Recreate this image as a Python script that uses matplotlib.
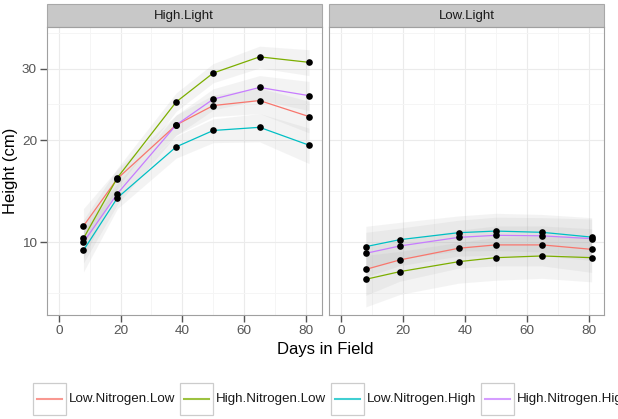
import matplotlib
matplotlib.use('Agg')
import matplotlib.pyplot as plt
from matplotlib.patches import Rectangle
from matplotlib.lines import Line2D
import numpy as np

plt.rcParams['font.family'] = ['Liberation Sans', 'DejaVu Sans']

# data
days = [8, 19, 38, 50, 65, 81]
treatments = ['Low.Nitrogen.Low', 'High.Nitrogen.Low', 'Low.Nitrogen.High', 'High.Nitrogen.High']
colors = ['#F8766D', '#7CAE00', '#00BFC4', '#C77CFF']
panels = ['High.Light', 'Low.Light']

# High.Light panel
hl_ln_low = [11.3, 15.7, 21.9, 24.5, 25.2, 23.0]
hl_hn_low = [10.3, 15.8, 25.0, 29.3, 31.9, 31.0]
hl_ln_high = [9.4, 13.8, 19.2, 21.2, 21.6, 19.4]
hl_hn_high = [10.0, 14.2, 21.9, 25.4, 27.1, 25.9]
hl_band = [1.5, 1.0, 1.3, 1.5, 1.8, 2.1]

# Low.Light panel
ll_ln_low = [8.07, 8.71, 9.55, 9.80, 9.80, 9.47]
ll_hn_low = [7.43, 7.92, 8.59, 8.87, 8.99, 8.87]
ll_ln_high = [9.67, 10.2, 10.75, 10.88, 10.78, 10.4]
ll_hn_high = [9.18, 9.72, 10.38, 10.54, 10.5, 10.28]
ll_band = [1.6, 1.4, 1.4, 1.5, 1.5, 1.6]

panel_series = [[hl_ln_low, hl_hn_low, hl_ln_high, hl_hn_high],
                [ll_ln_low, ll_hn_low, ll_ln_high, ll_hn_high]]
panel_bands = [hl_band, ll_band]

yticks = [10, 20, 30]
xticks = [0, 20, 40, 60, 80]


def fwd(v):
    return np.cbrt(v)


def inv(v):
    return np.asarray(v) ** 3


# minor grid at the midpoints in the transformed scale
tt = fwd(np.array(yticks, dtype=float))
tminor = list((tt[:-1] + tt[1:]) / 2)
tminor = [tt[0] - (tt[1] - tt[0]) / 2] + tminor + [tt[-1] + (tt[-1] - tt[-2]) / 2]
yminor = inv(tminor)

fig = plt.figure(figsize=(6.18, 4.19), dpi=100)
W, H = 618, 419
axes_px = [(46.7, 321.7), (329, 604.3)]
top_px, bot_px = 27, 315

for i, (x0, x1) in enumerate(axes_px):
    ax = fig.add_axes([x0 / W, 1 - bot_px / H, (x1 - x0) / W, (bot_px - top_px) / H])
    ax.set_yscale('function', functions=(fwd, inv))
    ax.set_ylim(5.41, 37.1)
    ax.set_xlim(-3.9, 85.1)
    ax.set_xticks(xticks)
    ax.set_xticks([10, 30, 50, 70], minor=True)
    ax.set_yticks(yticks)
    ax.set_yticks(yminor, minor=True)
    ax.yaxis.set_minor_formatter(plt.NullFormatter())
    ax.grid(True, which='major', color='#EBEBEB', lw=0.8)
    ax.grid(True, which='minor', color='#F5F5F5', lw=0.7)
    ax.set_axisbelow(True)
    ax.tick_params(which='minor', length=0)
    ax.tick_params(which='major', length=5, width=1, color='#555555',
                   labelsize=9.7, labelcolor='#555555', pad=2)
    if i == 1:
        ax.tick_params(axis='y', length=0, labelleft=False)
    for sp in ax.spines.values():
        sp.set_color('#A0A0A0')
        sp.set_linewidth(0.8)

    series = panel_series[i]
    band = np.array(panel_bands[i])
    for s in series:
        s = np.array(s)
        ax.fill_between(days, s - band, s + band, color='#A8A8A8', alpha=0.13, lw=0)
    for s, c in zip(series, colors):
        ax.plot(days, s, color=c, lw=0.9)
    for s in series:
        ax.plot(days, s, 'o', color='black', ms=4.8, mew=0)

    # facet strip
    ax.add_patch(Rectangle((0, 1), 1, 23 / (bot_px - top_px), transform=ax.transAxes,
                           facecolor='#C8C8C8', edgecolor='#A8A8A8', lw=0.8, clip_on=False))
    ax.text(0.5, 1 + 11.5 / (bot_px - top_px), panels[i], transform=ax.transAxes,
            ha='center', va='center', fontsize=9.5, color='#1A1A1A')

fig.text(11 / W, 1 - 171 / H, 'Height (cm)', rotation=90, ha='center', va='center', fontsize=12)
fig.text(325.5 / W, 1 - 349 / H, 'Days in Field', ha='center', va='center', fontsize=12)

# legend along the bottom, running off the right edge
fig.canvas.draw()
renderer = fig.canvas.get_renderer()
x = 33.3
kw = 32.4
ky0, ky1 = 383.3, 415
for lab, c in zip(treatments, colors):
    fig.add_artist(Rectangle((x / W, 1 - ky1 / H), kw / W, (ky1 - ky0) / H,
                             transform=fig.transFigure, facecolor='white',
                             edgecolor='#CCCCCC', lw=0.9))
    ym = 1 - (ky0 + ky1) / 2 / H
    fig.add_artist(Line2D([(x + 3.5) / W, (x + kw - 3.5) / W], [ym, ym],
                          transform=fig.transFigure, color=c, lw=1.5, alpha=0.75))
    t = fig.text((x + kw + 3.3) / W, ym, lab, ha='left', va='center', fontsize=9.6,
                 color='#1A1A1A')
    bb = t.get_window_extent(renderer)
    x = x + kw + 3.3 + bb.width + 5

fig.savefig('out.png', dpi=100)
